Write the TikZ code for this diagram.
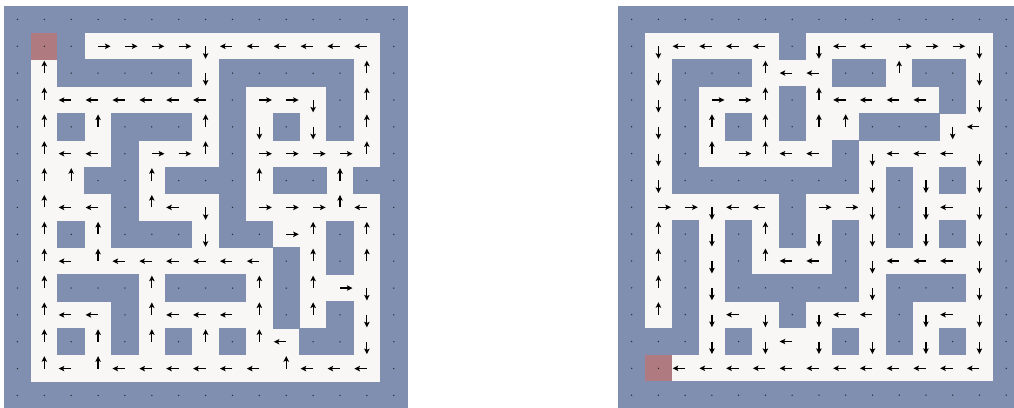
\documentclass[tikz,border=0pt]{standalone}
\usetikzlibrary{arrows.meta}
\definecolor{wallc}{RGB}{128,143,175}
\definecolor{pathc}{RGB}{248,247,245}
\definecolor{startc}{RGB}{176,122,129}
\definecolor{dotc}{RGB}{40,40,50}
\tikzset{
  arr/.style={line width=1.2pt, draw=black, -{Stealth[length=5.6pt,width=5.4pt,inset=1.2pt]}},
  dotst/.style={fill=dotc},
}
\def\al{12.5}
% pass A: walls and start cells
\newcommand\mzAW{\fill[wallc] (\xx-0.3,\yy-0.3) rectangle ++(\cw+0.6,\ch+0.6);
  \fill[dotst] (\xx+\cw/2,\yy+\ch/2) circle (0.75);}
\newcommand\mzAS{\fill[startc] (\xx,\yy) rectangle ++(\cw,\ch);
  \fill[dotst] (\xx+\cw/2,\yy+\ch/2) circle (0.75);}
\newcommand\mzAR{}\newcommand\mzAL{}\newcommand\mzAU{}\newcommand\mzAD{}
% pass B: arrows (tail at cell centre)
\newcommand\mzBW{}\newcommand\mzBS{}
\newcommand\mzBR{\draw[arr] (\xx+\cw/2,\yy+\ch/2) -- ++(\al,0);}
\newcommand\mzBL{\draw[arr] (\xx+\cw/2,\yy+\ch/2) -- ++(-\al,0);}
\newcommand\mzBU{\draw[arr] (\xx+\cw/2,\yy+\ch/2) -- ++(0,-\al);}
\newcommand\mzBD{\draw[arr] (\xx+\cw/2,\yy+\ch/2) -- ++(0,\al);}
\newcommand\drawmaze[4]{%
  \def\cw{#3}\def\ch{#4}%
  \fill[pathc] (#2,6) rectangle ++(15*#3,15*#4);
  \foreach \row [count=\r from 0] in #1 {
    \foreach \v [count=\c from 0] in \row {
      \pgfmathsetmacro\xx{#2+\c*#3}
      \pgfmathsetmacro\yy{6+\r*#4}
      \csname mzA\v\endcsname
    }
  }
  \foreach \row [count=\r from 0] in #1 {
    \foreach \v [count=\c from 0] in \row {
      \pgfmathsetmacro\xx{#2+\c*#3}
      \pgfmathsetmacro\yy{6+\r*#4}
      \csname mzB\v\endcsname
    }
  }}
\def\LM{{W,W,W,W,W,W,W,W,W,W,W,W,W,W,W},
{W,S,W,R,R,R,R,D,L,L,L,L,L,L,W},
{W,U,W,W,W,W,W,D,W,W,W,W,W,U,W},
{W,U,L,L,L,L,L,L,W,R,R,D,W,U,W},
{W,U,W,U,W,W,W,U,W,D,W,D,W,U,W},
{W,U,L,L,W,R,R,U,W,R,R,R,R,U,W},
{W,U,U,W,W,U,W,W,W,U,W,W,U,W,W},
{W,U,L,L,W,U,L,D,W,R,R,R,U,L,W},
{W,U,W,U,W,W,W,D,W,W,R,U,W,U,W},
{W,U,L,U,L,L,L,L,L,L,W,U,W,U,W},
{W,U,W,W,W,U,W,W,W,U,W,U,R,D,W},
{W,U,L,L,W,U,L,L,L,U,W,U,W,D,W},
{W,U,W,U,W,U,W,U,W,U,L,W,W,D,W},
{W,U,L,U,L,L,L,L,L,L,U,L,L,L,W},
{W,W,W,W,W,W,W,W,W,W,W,W,W,W,W}}
\def\RM{{W,W,W,W,W,W,W,W,W,W,W,W,W,W,W},
{W,D,L,L,L,L,W,D,L,L,R,R,R,D,W},
{W,D,W,W,W,U,L,L,W,W,U,W,W,D,W},
{W,D,W,R,R,U,W,U,L,L,L,L,W,D,W},
{W,D,W,U,W,U,W,U,U,W,W,W,D,L,W},
{W,D,W,U,R,U,L,L,W,D,L,L,L,D,W},
{W,D,W,W,W,W,W,W,W,D,W,D,W,D,W},
{W,R,R,D,L,L,W,R,R,D,W,D,L,D,W},
{W,U,W,D,W,U,W,D,W,D,W,D,W,D,W},
{W,U,W,D,W,U,L,L,W,D,L,L,L,D,W},
{W,U,W,D,W,W,W,W,W,D,W,W,W,D,W},
{W,U,W,D,L,D,W,D,L,L,W,D,L,D,W},
{W,W,W,D,W,D,L,D,W,D,W,D,W,D,W},
{W,S,L,L,L,L,L,L,L,L,L,L,L,L,W},
{W,W,W,W,W,W,W,W,W,W,W,W,W,W,W}}
\begin{document}
\begin{tikzpicture}[x=1pt,y=-1pt]
\useasboundingbox[fill=white] (0,0) rectangle (1014,407);
\drawmaze{\LM}{4}{26.88}{26.86}
\drawmaze{\RM}{618.3}{26.75}{26.84}
\end{tikzpicture}
\end{document}
